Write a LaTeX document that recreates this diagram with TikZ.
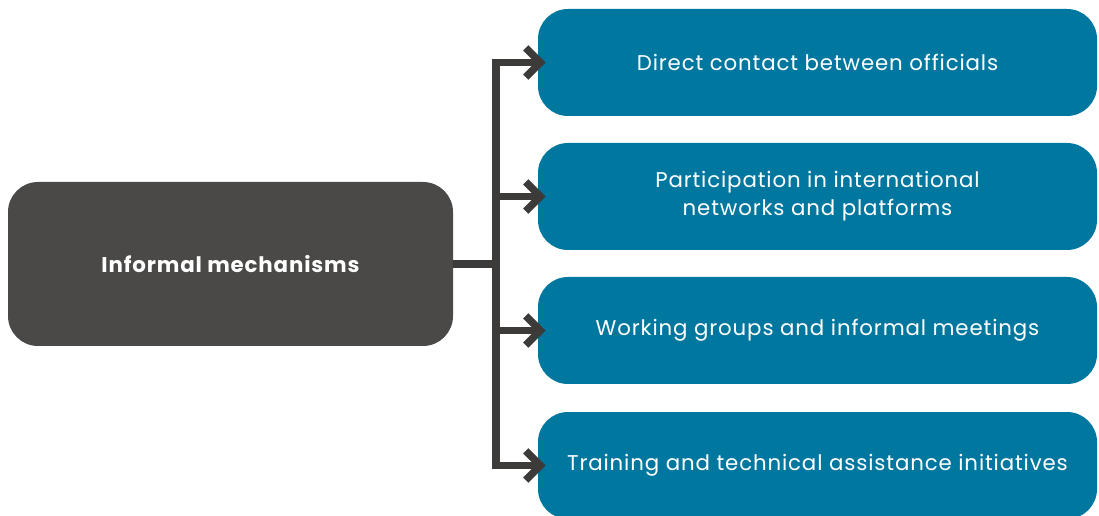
\documentclass[tikz,border=0pt]{standalone}
\usepackage{fontspec}
\setmainfont{Poppins}[LetterSpace=4]
\usepackage{tikz}
\usetikzlibrary{arrows.meta}
\definecolor{mechgray}{HTML}{4A4947}
\definecolor{mechblue}{HTML}{00779F}
\definecolor{linegray}{HTML}{3C3B39}
\tikzset{edge/.style = {draw=linegray, line width=5.6pt, line join=miter,
                        -{Straight Barb[length=11pt,width=22pt]}}}

\begin{document}
\begin{tikzpicture}[x=0.75pt,y=-0.75pt]
	\useasboundingbox (0,0) rectangle (1099,516);
	\begin{scope}[every node/.style={rounded corners=22.5pt,fill=mechblue,text=white,align=center,font=\fontsize{16}{21}\selectfont,minimum width=419.25pt,minimum height=80.25pt,inner sep=0pt},
	              mainnode/.style = {fill=mechgray,font=\fontsize{16}{21}\selectfont\bfseries,minimum width=333.75pt,minimum height=123pt}]
	    \node [mainnode] (informal) at (230.5,264) {Informal mechanisms};
	    \node (direct) at (817.5,62.5) {Direct contact between officials};
	    \node (networks) at (817.5,196.5) {Participation in international\\networks and platforms};
	    \node (working) at (817.5,330.5) {Working groups and informal meetings};
	    \node (training) at (817.5,465.5) {Training and technical assistance initiatives};
	\end{scope}
	\coordinate (split) at (496,264);
	\begin{scope}[every path/.style={edge}]
	    \draw [-] (informal.east) -- (split);
	    \draw (split) |- ([xshift=6pt]direct.west);
	    \draw (split) |- ([xshift=6pt]networks.west);
	    \draw (split) |- ([xshift=6pt]working.west);
	    \draw (split) |- ([xshift=6pt]training.west);
	\end{scope}
\end{tikzpicture}
\end{document}
